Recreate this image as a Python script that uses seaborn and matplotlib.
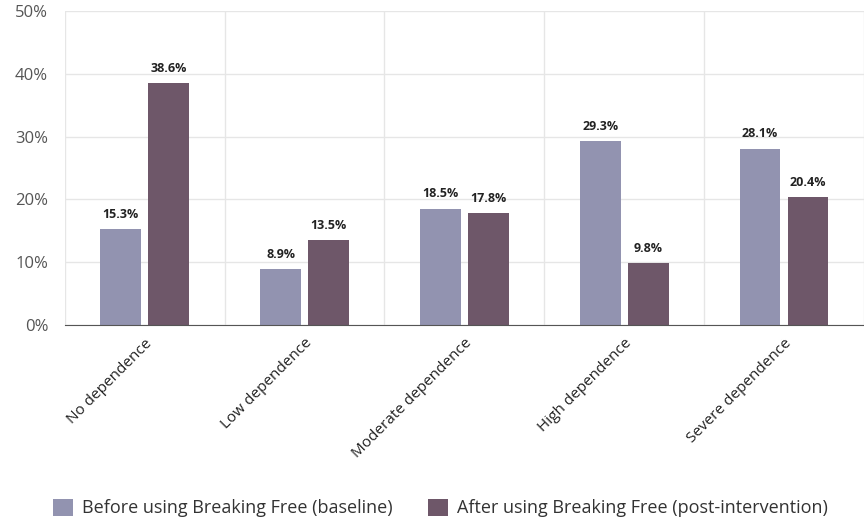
import seaborn as sns
import pandas as pd
import matplotlib.pyplot as plt
from matplotlib.ticker import FixedLocator, PercentFormatter

categories = ["No dependence", "Low dependence", "Moderate dependence",
              "High dependence", "Severe dependence"]
before = [15.3, 8.9, 18.5, 29.3, 28.1]
after = [38.6, 13.5, 17.8, 9.8, 20.4]
series_names = ["Before using Breaking Free (baseline)",
                "After using Breaking Free (post-intervention)"]
colors = ["#9293b0", "#6e5769"]

df = pd.DataFrame({
    "category": categories * 2,
    "value": before + after,
    "series": [series_names[0]] * 5 + [series_names[1]] * 5,
})

sns.set_style("white")
plt.rcParams["font.family"] = ["Open Sans", "DejaVu Sans"]

fig = plt.figure(figsize=(8.64, 5.22), dpi=100)
ax = fig.add_axes([0.075, 0.378, 0.925, 0.6])

sns.barplot(data=df, x="category", y="value", hue="series", palette=colors,
            width=0.6, gap=0.15, ax=ax, edgecolor="none", saturation=1)

ax.set_ylim(0, 50)
ax.set_xlim(-0.5, 4.5)
ax.set_yticks([0, 10, 20, 30, 40, 50])
ax.yaxis.set_major_formatter(PercentFormatter(decimals=0))
ax.xaxis.set_minor_locator(FixedLocator([-0.5, 0.5, 1.5, 2.5, 3.5, 4.5]))
ax.grid(axis="y", color="#e6e6e6", linewidth=1)
ax.grid(axis="x", which="minor", color="#e6e6e6", linewidth=1)
ax.set_axisbelow(True)
for s in ["top", "right", "left"]:
    ax.spines[s].set_visible(False)
ax.spines["bottom"].set_color("#555555")
ax.tick_params(axis="y", colors="#555555", labelsize=12, length=0, pad=12)
ax.tick_params(axis="x", which="both", length=0, labelsize=11, pad=8)
plt.setp(ax.get_xticklabels(), rotation=45, ha="right", rotation_mode="anchor",
         color="#222222")
ax.set_xlabel("")
ax.set_ylabel("")

for cont in ax.containers:
    ax.bar_label(cont, fmt="%.1f%%", padding=6, fontsize=9, fontweight="bold",
                 color="#222222")

ax.legend(loc="center", bbox_to_anchor=(0.47, -0.585), ncol=2, frameon=False,
          fontsize=13, handlelength=1.1, handleheight=1.1, columnspacing=2.0,
          handletextpad=0.5, labelcolor="#333333")

fig.savefig("out.png", dpi=100)
